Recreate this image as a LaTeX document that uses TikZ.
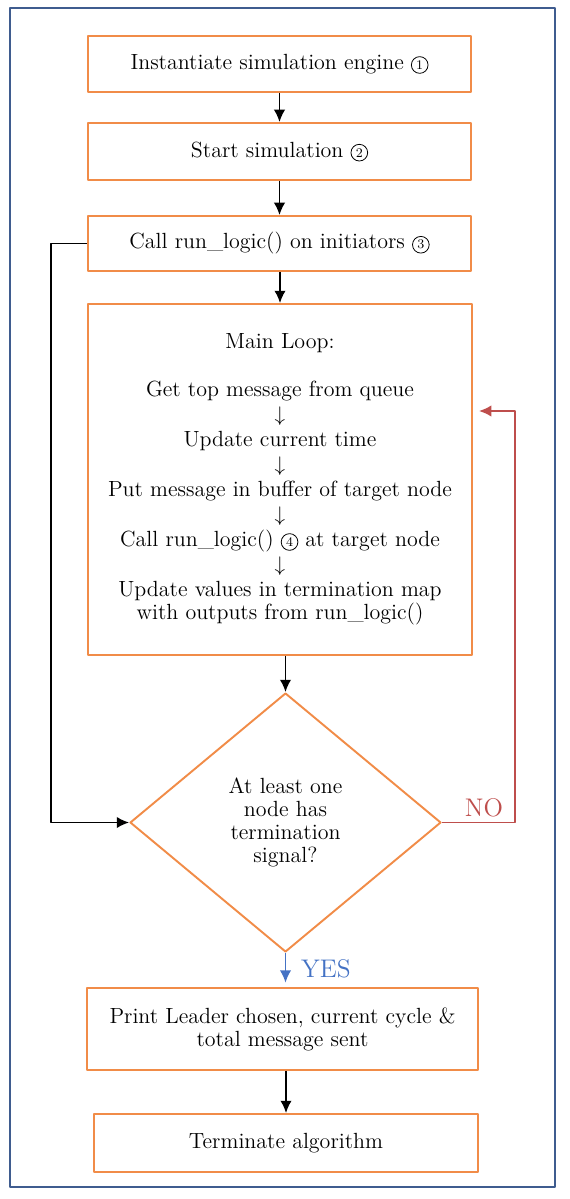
\documentclass[tikz,border=0pt]{standalone}
\usepackage{fontspec}
\usetikzlibrary{shapes.geometric,arrows.meta}
\definecolor{boxorange}{RGB}{241,140,72}
\definecolor{framblue}{RGB}{63,92,143}
\definecolor{nored}{RGB}{190,78,76}
\definecolor{yesblue}{RGB}{68,114,196}
\newcommand{\circnum}[1]{\tikz[baseline=(n.base)]\node[circle, draw=black, line width=0.45pt, inner sep=0pt, minimum size=9.5pt, font=\fontsize{7.5}{8}\selectfont] (n) {#1};}
\tikzset{
  stepbox/.style={draw=boxorange, line width=1.1pt, align=center, inner sep=2pt},
  decision/.style={diamond, draw=boxorange, line width=1.1pt, align=center, inner sep=0pt},
  bigtext/.style={font=\fontsize{14.5}{16}\selectfont}
}
\begin{document}
\begin{tikzpicture}[>={Latex[length=7pt,width=6.5pt]}, x=0.02cm, y=-0.02cm, font=\fontsize{12.5}{13.2}\selectfont, line join=round, line width=1pt]
\useasboundingbox (0,0) rectangle (570,1199);
% khung ngoài
\draw[framblue, line width=0.9pt] (10,8) rectangle (555,1187);
% các bước
\node[stepbox, minimum width=7.66cm, minimum height=1.12cm] (inst) at (279.5,64) {Instantiate simulation engine \circnum{1}};
\node[stepbox, minimum width=7.66cm, minimum height=1.14cm] (start) at (279.5,151.5) {Start simulation \circnum{2}};
\node[stepbox, minimum width=7.66cm, minimum height=1.1cm] (call) at (279.5,243.5) {Call run\_logic() on initiators \circnum{3}};
\node[stepbox, minimum width=7.68cm, minimum height=7.02cm, font=\fontsize{12.5}{14.2}\selectfont] (loop) at (280,479.5)
  {Main Loop:\\[13pt]
   Get top message from queue\\ $\downarrow$\\
   Update current time\\ $\downarrow$\\
   Put message in buffer of target node\\ $\downarrow$\\
   Call run\_logic() \circnum{4} at target node\\ $\downarrow$\\
   Update values in termination map\\[-1pt]
   with outputs from run\_logic()};
% điều kiện
\node[decision, minimum width=6.22cm, minimum height=5.18cm] (cond) at (285.5,822.5) {At least one\\ node has\\ termination\\ signal?};
\node[stepbox, minimum width=7.82cm, minimum height=1.64cm] (print) at (282.5,1029) {Print Leader chosen, current cycle \&\\ total message sent};
\node[stepbox, minimum width=7.68cm, minimum height=1.16cm] (term) at (286,1143) {Terminate algorithm};
% mũi tên
\foreach \a/\b in {inst/start, start/call, call/loop, loop/cond, print/term}
  \draw[->] (\b.north |- \a.south) -- (\b.north);
\draw[->] (call.west) -- ++(-36,0) |- (cond.west);
\coordinate (back) at (479,411);
\draw[nored, ->] (cond.east) -- ++(73,0) |- (back);
\draw[yesblue, ->, shorten >=2.5pt] (cond.south) -- (cond.south |- print.north);
% nhãn
\node[nored, bigtext] (nolab) at (484,808) {NO};
\node[yesblue, bigtext] (yeslab) at (326,969) {YES};
\end{tikzpicture}
\end{document}
